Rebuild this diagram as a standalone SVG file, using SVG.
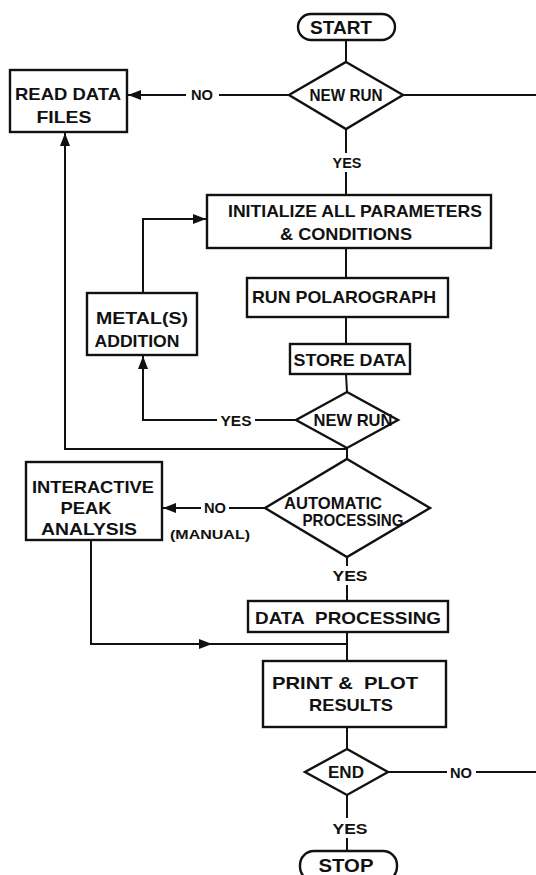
<svg xmlns="http://www.w3.org/2000/svg" width="536" height="875" viewBox="0 0 536 875">
  <style>
    .box { fill: #fff; stroke: #111; stroke-width: 2.4; }
    .ln { fill: none; stroke: #111; stroke-width: 2; }
    text { font-family: "Liberation Sans", Arial, sans-serif; font-weight: bold; fill: #111; text-anchor: middle; }
    .t { font-size: 17px; }
    .lb { font-size: 14px; }
    .sm { font-size: 12px; }
    .term { font-size: 19px; }
  </style>
  <defs>
    <marker id="arr" markerUnits="userSpaceOnUse" markerWidth="14" markerHeight="10" refX="13" refY="5" orient="auto">
      <path d="M0,0 L13,5 L0,10 z" fill="#111"/>
    </marker>
  </defs>
  <rect width="536" height="875" fill="#fff"/>

  <!-- connectors -->
  <g id="connectors">
    <!-- start to first decision -->
    <line class="ln" x1="346" y1="40" x2="346" y2="62"/>
    <!-- first decision: NO to read data files -->
    <line class="ln" x1="289" y1="95" x2="219" y2="95"/>
    <line class="ln" x1="186" y1="95" x2="128" y2="95" marker-end="url(#arr)"/>
    <text class="lb" x="202" y="100" textLength="22" lengthAdjust="spacingAndGlyphs">NO</text>
    <!-- first decision: right exit -->
    <line class="ln" x1="403" y1="95" x2="536" y2="95"/>
    <!-- first decision: YES down to initialize -->
    <line class="ln" x1="346" y1="129" x2="346" y2="153"/>
    <text class="lb" x="347" y="168" textLength="29" lengthAdjust="spacingAndGlyphs">YES</text>
    <line class="ln" x1="346" y1="172" x2="346" y2="195"/>
    <!-- main chain -->
    <line class="ln" x1="346" y1="248" x2="346" y2="278"/>
    <line class="ln" x1="346" y1="317" x2="346" y2="344"/>
    <line class="ln" x1="346" y1="374" x2="347" y2="392"/>
    <!-- second decision: YES to metal addition -->
    <line class="ln" x1="296" y1="420" x2="255" y2="420"/>
    <text class="lb" x="236" y="426" textLength="31" lengthAdjust="spacingAndGlyphs">YES</text>
    <polyline class="ln" points="217,420 143,420 143,356" marker-end="url(#arr)"/>
    <!-- metal addition back to initialize -->
    <polyline class="ln" points="143,293 143,219 206,219" marker-end="url(#arr)"/>
    <!-- second decision: down, with loop back to read data files -->
    <polyline class="ln" points="347,448 347,449 65,449 65,133" marker-end="url(#arr)"/>
    <line class="ln" x1="347" y1="448" x2="347" y2="459"/>
    <!-- automatic processing: NO (manual) -->
    <line class="ln" x1="265" y1="508" x2="229" y2="508"/>
    <text class="lb" x="215" y="513" textLength="22" lengthAdjust="spacingAndGlyphs">NO</text>
    <line class="ln" x1="201" y1="508" x2="163" y2="508" marker-end="url(#arr)"/>
    <text class="sm" x="210" y="539" textLength="80" lengthAdjust="spacingAndGlyphs">(MANUAL)</text>
    <!-- automatic processing: YES -->
    <line class="ln" x1="347" y1="557" x2="347" y2="566"/>
    <text class="lb" x="350" y="581" textLength="35" lengthAdjust="spacingAndGlyphs">YES</text>
    <line class="ln" x1="347" y1="585" x2="347" y2="601"/>
    <line class="ln" x1="347" y1="632" x2="347" y2="661"/>
    <!-- interactive analysis joins before print -->
    <polyline class="ln" points="91,540 91,644 212,644" marker-end="url(#arr)"/>
    <line class="ln" x1="205" y1="644" x2="347" y2="644"/>
    <!-- print to end -->
    <line class="ln" x1="347" y1="727" x2="347" y2="749"/>
    <!-- end: NO exit -->
    <line class="ln" x1="388" y1="772" x2="447" y2="772"/>
    <text class="lb" x="461" y="778" textLength="22" lengthAdjust="spacingAndGlyphs">NO</text>
    <line class="ln" x1="476" y1="772" x2="536" y2="772"/>
    <!-- end: YES to stop -->
    <line class="ln" x1="347" y1="795" x2="347" y2="818"/>
    <text class="lb" x="350" y="834" textLength="35" lengthAdjust="spacingAndGlyphs">YES</text>
    <line class="ln" x1="347" y1="838" x2="347" y2="851"/>
  </g>

  <!-- nodes -->
  <g id="start">
    <rect class="box" x="298" y="14" width="97" height="26" rx="13"/>
    <text class="term" x="341" y="34" textLength="62" lengthAdjust="spacingAndGlyphs">START</text>
  </g>
  <g id="new-run-1">
    <polygon class="box" points="346,62 403,95 346,129 289,95"/>
    <text class="t" x="346" y="101" textLength="73" lengthAdjust="spacingAndGlyphs">NEW RUN</text>
  </g>
  <g id="read-data-files">
    <rect class="box" x="10" y="70" width="117" height="62"/>
    <text class="t" x="68" y="100" textLength="106" lengthAdjust="spacingAndGlyphs">READ DATA</text>
    <text class="t" x="64" y="123" textLength="55" lengthAdjust="spacingAndGlyphs">FILES</text>
  </g>
  <g id="initialize">
    <rect class="box" x="207" y="195" width="284" height="53"/>
    <text class="t" x="355" y="217" textLength="254" lengthAdjust="spacingAndGlyphs">INITIALIZE ALL PARAMETERS</text>
    <text class="t" x="346" y="240" textLength="132" lengthAdjust="spacingAndGlyphs">&amp; CONDITIONS</text>
  </g>
  <g id="run-polarograph">
    <rect class="box" x="247" y="278" width="201" height="39"/>
    <text class="t" x="344" y="303" textLength="184" lengthAdjust="spacingAndGlyphs">RUN POLAROGRAPH</text>
  </g>
  <g id="metal-addition">
    <rect class="box" x="87" y="293" width="110" height="62"/>
    <text class="t" x="142" y="324" textLength="92" lengthAdjust="spacingAndGlyphs">METAL(S)</text>
    <text class="t" x="137" y="347" textLength="85" lengthAdjust="spacingAndGlyphs">ADDITION</text>
  </g>
  <g id="store-data">
    <rect class="box" x="290" y="344" width="120" height="30"/>
    <text class="t" x="350" y="366" textLength="113" lengthAdjust="spacingAndGlyphs">STORE DATA</text>
  </g>
  <g id="new-run-2">
    <polygon class="box" points="347,392 398,420 347,448 296,420"/>
    <text class="t" x="353" y="426" textLength="79" lengthAdjust="spacingAndGlyphs">NEW RUN</text>
  </g>
  <g id="automatic-processing">
    <polygon class="box" points="347,459 430,508 347,557 265,508"/>
    <text class="t" x="333" y="509" textLength="98" lengthAdjust="spacingAndGlyphs">AUTOMATIC</text>
    <text class="t" x="353" y="526" textLength="101" lengthAdjust="spacingAndGlyphs">PROCESSING</text>
  </g>
  <g id="interactive-peak-analysis">
    <rect class="box" x="26" y="462" width="136" height="78"/>
    <text class="t" x="93" y="493" textLength="122" lengthAdjust="spacingAndGlyphs">INTERACTIVE</text>
    <text class="t" x="86" y="514" textLength="51" lengthAdjust="spacingAndGlyphs">PEAK</text>
    <text class="t" x="89" y="535" textLength="96" lengthAdjust="spacingAndGlyphs">ANALYSIS</text>
  </g>
  <g id="data-processing">
    <rect class="box" x="248" y="601" width="200" height="31"/>
    <text class="t" x="348" y="624" textLength="186" lengthAdjust="spacingAndGlyphs">DATA&#160; PROCESSING</text>
  </g>
  <g id="print-plot">
    <rect class="box" x="263" y="661" width="183" height="66"/>
    <text class="t" x="345" y="689" textLength="146" lengthAdjust="spacingAndGlyphs">PRINT &amp;&#160; PLOT</text>
    <text class="t" x="351" y="711" textLength="84" lengthAdjust="spacingAndGlyphs">RESULTS</text>
  </g>
  <g id="end">
    <polygon class="box" points="347,749 388,772 347,795 305,772"/>
    <text class="t" x="346" y="778" textLength="36" lengthAdjust="spacingAndGlyphs">END</text>
  </g>
  <g id="stop">
    <rect class="box" x="300" y="851" width="97" height="30" rx="14"/>
    <text class="term" x="346" y="872" textLength="55" lengthAdjust="spacingAndGlyphs">STOP</text>
  </g>
</svg>
